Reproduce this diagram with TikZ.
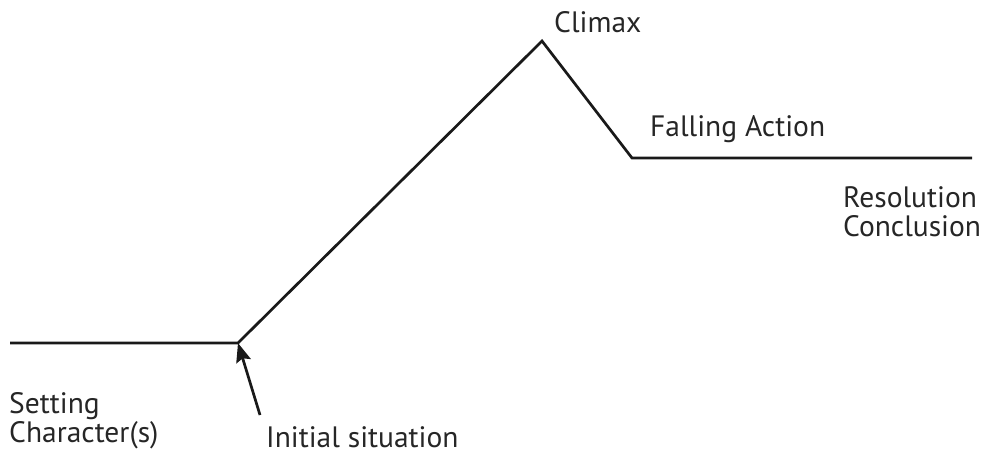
\documentclass[tikz,border=0pt]{standalone}
\usepackage{fontspec}
\setmainfont{PT Sans}
\usetikzlibrary{arrows.meta}
\begin{document}
\begin{tikzpicture}[x=1pt,y=-1pt,
  plot/.style={line width=2.7pt, line join=miter, black!90},
  lbl/.style={anchor=base west, inner sep=0pt, font=\fontsize{29.5}{30}\selectfont, text=black!85},
  pointer/.style={line width=2.7pt, black!90, -{Stealth[length=19pt,width=15pt,inset=3pt]}}]
\useasboundingbox (0,0) rectangle (986,456);
\coordinate (start) at (10,343);
\coordinate (init) at (238,343);
\coordinate (peak) at (542,41);
\coordinate (fall) at (632,158);
\coordinate (stop) at (972,158);
\draw[plot] (start) -- (init) -- (peak) -- (fall) -- (stop);
\node[lbl] (climax) at (554,32) {Climax};
\node[lbl] (falling) at (650,136) {Falling Action};
\node[lbl] (res) at (843,207) {Resolution};
\node[lbl] (concl) at (843,236) {Conclusion};
\node[lbl] (setting) at (9,413) {Setting};
\node[lbl] (chars) at (9,442) {Character(s)};
\node[lbl] (initial) at (266,447) {Initial situation};
\coordinate (tail) at (260,415);
\draw[pointer] (tail) -- (init);
\end{tikzpicture}
\end{document}
